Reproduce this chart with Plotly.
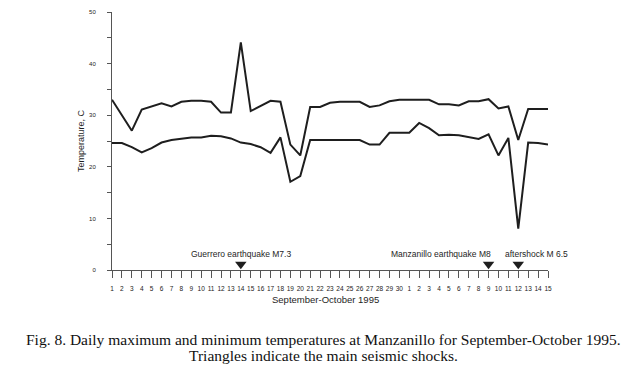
import plotly.graph_objects as go

# ---- data ----
day_labels = [str(d) for d in range(1, 31)] + [str(d) for d in range(1, 16)]
t_max = [33.0, 30.0, 27.0, 31.1, 31.7, 32.3, 31.7, 32.6, 32.8, 32.8,
         32.6, 30.5, 30.5, 44.1, 30.8, 31.8, 32.8, 32.6, 24.3, 22.2,
         31.6, 31.6, 32.4, 32.6, 32.6, 32.6, 31.6, 31.9, 32.7, 33.0,
         33.0, 33.0, 33.0, 32.1, 32.1, 31.9, 32.7, 32.7, 33.1, 31.3,
         31.7, 25.2, 31.2, 31.2, 31.2]
t_min = [24.6, 24.6, 23.8, 22.8, 23.6, 24.7, 25.2, 25.4, 25.7, 25.7,
         26.0, 25.9, 25.5, 24.7, 24.4, 23.8, 22.7, 25.7, 17.1, 18.2,
         25.2, 25.2, 25.2, 25.2, 25.2, 25.2, 24.3, 24.3, 26.6, 26.6,
         26.6, 28.5, 27.5, 26.1, 26.2, 26.1, 25.7, 25.4, 26.3, 22.2,
         25.6, 8.0, 24.7, 24.6, 24.3]
quake_idx = [13, 38, 41]
quake_names = ["Guerrero earthquake M7.3", "Manzanillo earthquake M8", "aftershock M 6.5"]
y_ticks = [0, 10, 20, 30, 40, 50]
caption_lines = ["Fig. 8. Daily maximum and minimum temperatures at Manzanillo for September-October 1995.",
                 "Triangles indicate the main seismic shocks."]

x = list(range(len(day_labels)))

fig = go.Figure()
line_style = dict(color="#1e1e1e", width=2)
fig.add_trace(go.Scatter(x=x, y=t_max, mode="lines", line=line_style, showlegend=False))
fig.add_trace(go.Scatter(x=x, y=t_min, mode="lines", line=line_style, showlegend=False))
fig.add_trace(go.Scatter(x=quake_idx, y=[1.1] * len(quake_idx), mode="markers",
                         marker=dict(symbol="triangle-down", size=10, color="#1e1e1e"),
                         showlegend=False, cliponaxis=False))

sans = "Liberation Sans, Arial, sans-serif"
ann_font = dict(family=sans, size=8.5, color="#1e1e1e")
fig.add_annotation(x=quake_idx[0], y=1.8, text=quake_names[0], showarrow=False,
                   xanchor="center", yanchor="bottom", font=ann_font)
fig.add_annotation(x=quake_idx[1] + 0.4, y=1.8, text=quake_names[1], showarrow=False,
                   xanchor="right", yanchor="bottom", font=ann_font)
fig.add_annotation(x=quake_idx[2] - 1.5, y=1.8, text=quake_names[2], showarrow=False,
                   xanchor="left", yanchor="bottom", font=ann_font)

fig.add_annotation(xref="paper", yref="paper", x=0.49, y=-0.115, text="September-October 1995",
                   showarrow=False, xanchor="center", yanchor="middle",
                   font=dict(family=sans, size=9.5, color="#1e1e1e"))

serif = "Liberation Serif, Times New Roman, serif"
cap_font = dict(family=serif, size=15.5, color="#111111")
fig.add_annotation(xref="paper", yref="paper", x=0.484, y=-0.27, text=caption_lines[0],
                   showarrow=False, xanchor="center", yanchor="middle", font=cap_font)
fig.add_annotation(xref="paper", yref="paper", x=0.484, y=-0.332, text=caption_lines[1],
                   showarrow=False, xanchor="center", yanchor="middle", font=cap_font)

fig.update_layout(
    width=641, height=371,
    margin=dict(l=112, r=93, t=9, b=101),
    paper_bgcolor="white", plot_bgcolor="white",
    xaxis=dict(range=[0, len(x) - 1], tickmode="array", tickvals=x, ticktext=day_labels,
               showgrid=False, zeroline=False, showline=True, linecolor="#555555", linewidth=1,
               ticks="outside", ticklen=7, tickcolor="#555555", tickangle=0,
               tickfont=dict(family=sans, size=6.5, color="#222222"), ticklabelstandoff=5),
    yaxis=dict(range=[0, 50], tickmode="array", tickvals=y_ticks,
               showgrid=False, zeroline=False, showline=True, linecolor="#555555", linewidth=1,
               ticks="outside", ticklen=4, tickcolor="#555555",
               minor=dict(ticks="outside", dtick=5, ticklen=4, tickcolor="#555555", showgrid=False),
               tickfont=dict(family=sans, size=6, color="#222222"), ticklabelstandoff=10,
               title=dict(text="Temperature, C", font=dict(family=sans, size=9, color="#1e1e1e"),
                          standoff=2)),
)

fig.write_html("out.html", config={"displayModeBar": False},
               post_script="document.body.style.margin='0';document.body.style.overflow='hidden';")
